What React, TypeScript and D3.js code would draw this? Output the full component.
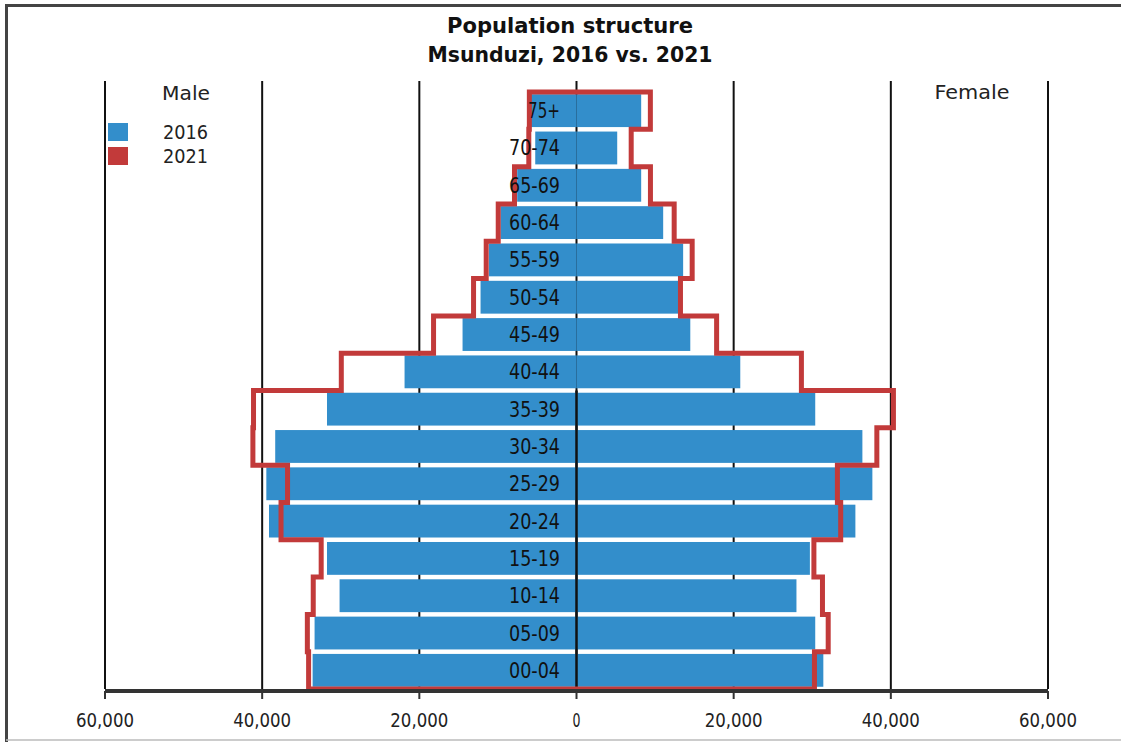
import React from "react";
import * as d3 from "d3";

const ageGroups = ["75+", "70-74", "65-69", "60-64", "55-59", "50-54", "45-49", "40-44", "35-39", "30-34", "25-29", "20-24", "15-19", "10-14", "05-09", "00-04"];
const male2016 = [5850, 5250, 7550, 9670, 11150, 12210, 14500, 21880, 31750, 38340, 39470, 39130, 31750, 30150, 33330, 33580];
const female2016 = [8230, 5180, 8230, 11030, 13570, 12970, 14480, 20840, 30380, 36380, 37650, 35490, 29700, 27990, 30380, 31410];
const male2021 = [6000, 6070, 7890, 9960, 11490, 13100, 18190, 29930, 41100, 41180, 36770, 37600, 32490, 33500, 34250, 34090];
const female2021 = [9400, 6960, 9410, 12430, 14720, 13230, 17830, 28620, 40330, 38220, 33200, 33620, 30210, 31300, 32030, 30280];
const xTicks = [-60000, -40000, -20000, 0, 20000, 40000, 60000];
const tickLabels = ["60,000", "40,000", "20,000", "0", "20,000", "40,000", "60,000"];
const titleLines = ["Population structure", "Msunduzi, 2016 vs. 2021"];
const legendItems = ["2016", "2021"];

const BLUE = "#338ecb";
const RED = "#c23a3a";
const FONT = "'DejaVu Sans', sans-serif";

export default function App() {
  const x = d3.scaleLinear().domain([-60000, 60000]).range([105, 1048]);
  const top = 92;
  const bottom = 689;
  const y = d3.scaleBand<string>().domain(ageGroups).range([top, bottom]).paddingInner(0.12).paddingOuter(0.06);
  const n = ageGroups.length;
  const bandTop = (i: number) => top + i * ((bottom - top) / n);
  const bandBottom = (i: number) => top + (i + 1) * ((bottom - top) / n);

  // red stepped outline
  const pts: [number, number][] = [];
  for (let i = n - 1; i >= 0; i--) {
    pts.push([x(-male2021[i]), bandBottom(i)]);
    pts.push([x(-male2021[i]), bandTop(i)]);
  }
  for (let i = 0; i < n; i++) {
    pts.push([x(female2021[i]), bandTop(i)]);
    pts.push([x(female2021[i]), bandBottom(i)]);
  }
  const outline = d3.line()(pts) + "Z";

  const idx3539 = ageGroups.indexOf("35-39");

  return (
    <svg width={1121} height={742} style={{ position: "absolute", left: 0, top: 0, background: "#fff" }}>
      <rect x={0} y={0} width={1121} height={742} fill="#fff" />
      {/* frame */}
      <line x1={5} x2={1121} y1={5.5} y2={5.5} stroke="#444" strokeWidth={3} />
      <line x1={6.5} x2={6.5} y1={4} y2={742} stroke="#444" strokeWidth={3} />
      <line x1={6} x2={1121} y1={740} y2={740} stroke="#bbb" strokeWidth={1.5} />

      {/* title */}
      {titleLines.map((t, i) => (
        <text key={t} x={570} y={33 + i * 29} textAnchor="middle" fontFamily={FONT} fontWeight="bold" fontSize={22}
          textLength={i === 0 ? 246 : 285} lengthAdjust="spacingAndGlyphs" fill="#111">{t}</text>
      ))}

      {/* gridlines */}
      {xTicks.map((t) => (
        <line key={"g" + t} x1={x(t)} x2={x(t)} y1={81} y2={bottom} stroke="#111" strokeWidth={2} />
      ))}

      {/* 2016 bars */}
      {ageGroups.map((a, i) => (
        <g key={a}>
          <rect x={x(-male2016[i])} y={y(a)} width={x(0) - x(-male2016[i])} height={y.bandwidth()} fill={BLUE} />
          <rect x={x(0)} y={y(a)} width={x(female2016[i]) - x(0)} height={y.bandwidth()} fill={BLUE} />
        </g>
      ))}

      {/* center line overlay */}
      <line x1={x(0)} x2={x(0)} y1={bandTop(idx3539)} y2={bottom} stroke="#111" strokeWidth={2.5} />

      {/* 2021 outline */}
      <path d={outline} fill="none" stroke={RED} strokeWidth={5} strokeLinejoin="miter" />

      {/* age labels */}
      {ageGroups.map((a) => (
        <text key={"l" + a} x={560} y={(y(a) as number) + y.bandwidth() / 2 + 7.5} textAnchor="end" fontFamily={FONT} fontSize={21}
          textLength={a.length === 3 ? 32 : 51} lengthAdjust="spacingAndGlyphs" fill="#111">{a}</text>
      ))}

      {/* axis */}
      <line x1={x(-60000)} x2={x(60000)} y1={691} y2={691} stroke="#333" strokeWidth={4} />
      {xTicks.map((t, i) => (
        <g key={"t" + t}>
          <line x1={x(t)} x2={x(t)} y1={691} y2={699} stroke="#333" strokeWidth={2} />
          <text x={x(t)} y={727} textAnchor="middle" fontFamily={FONT} fontSize={20}
            {...(tickLabels[i].length > 1 ? { textLength: 58, lengthAdjust: "spacingAndGlyphs" } : { textLength: 8, lengthAdjust: "spacingAndGlyphs" })} fill="#222">{tickLabels[i]}</text>
        </g>
      ))}

      {/* Male / Female */}
      <text x={186} y={100} textAnchor="middle" fontFamily={FONT} fontSize={19} textLength={48} lengthAdjust="spacingAndGlyphs" fill="#222">Male</text>
      <text x={972} y={99} textAnchor="middle" fontFamily={FONT} fontSize={19} textLength={75} lengthAdjust="spacingAndGlyphs" fill="#222">Female</text>

      {/* legend */}
      {legendItems.map((l, i) => (
        <g key={l}>
          <rect x={108} y={123 + i * 24} width={20} height={18} fill={i === 0 ? BLUE : RED} />
          <text x={163} y={139 + i * 24} fontFamily={FONT} fontSize={19} textLength={45} lengthAdjust="spacingAndGlyphs" fill="#222">{l}</text>
        </g>
      ))}
    </svg>
  );
}
